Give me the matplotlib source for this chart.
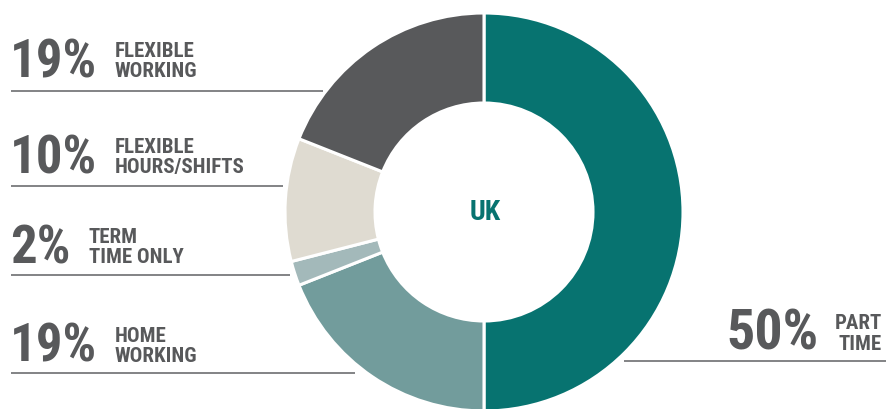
import matplotlib
matplotlib.use("Agg")
import matplotlib.pyplot as plt
from matplotlib import font_manager

# data
categories = ["PART TIME", "HOME WORKING", "TERM TIME ONLY", "FLEXIBLE HOURS/SHIFTS", "FLEXIBLE WORKING"]
shares = [50, 19, 2, 10, 19]
colors = ["#077370", "#729c9c", "#a3b9ba", "#dfdbd1", "#58595b"]
label_lines = [["PART", "TIME"], ["HOME", "WORKING"], ["TERM", "TIME ONLY"],
               ["FLEXIBLE", "HOURS/SHIFTS"], ["FLEXIBLE", "WORKING"]]
center_label = "UK"

# layout in pixels (from top-left)
W, H = 886, 409
cx, cy, r_out, r_in = 484, 212, 199, 109
text_bottom = [350, 362, 263, 173, 77]   # baseline of big number / second line
rule_y = [361, 373, 275, 186, 91]
rule_x = [(624, 886), (11, 355), (11, 290), (11, 283), (11, 323)]


# look for a narrow bold face, heaviest first
def find_narrow():
    best = None
    for f in font_manager.fontManager.ttflist:
        n = f.name.lower()
        fn = f.fname.lower()
        narrow = ("narrow" in n or "condensed" in n or "condensed" in fn or "narrow" in fn or
                  f.stretch in ("condensed", "semi-condensed"))
        if not narrow:
            continue
        if "extra" in fn or "semi" in fn or "italic" in fn or "oblique" in fn:
            continue
        w = f.weight if isinstance(f.weight, int) else 700
        if w < 600 or w > 850:
            continue
        score = w / 1000.0
        if "liberation" in n:
            score += 3
        elif "roboto" in n:
            score += 2
        elif "noto" in n or "open" in n:
            score += 1
        if best is None or score > best[0]:
            best = (score, f.fname)
    return best[1] if best else None


fpath = find_narrow()
if fpath:
    def fp(size):
        return font_manager.FontProperties(fname=fpath, size=size)
    scale = 1.0
else:
    def fp(size):
        return font_manager.FontProperties(family="DejaVu Sans", weight="bold", size=size)
    scale = 0.8

grey = "#58595b"
line_col = "#6d6e71"

fig = plt.figure(figsize=(W / 100, H / 100), dpi=100)
ax = fig.add_axes([0, 0, 1, 1])


def fy(y):
    return H - y


# lines under labels (behind donut)
for (x0, x1), y in zip(rule_x, rule_y):
    ax.plot([x0, x1], [fy(y), fy(y)], color=line_col, lw=1.2, zorder=1, solid_capstyle="butt")

ax.pie(shares, colors=colors, startangle=90, counterclock=False,
       center=(cx, fy(cy)), radius=r_out, frame=True,
       wedgeprops=dict(width=r_out - r_in, edgecolor="white", linewidth=2.2))
ax.set_xlim(0, W)
ax.set_ylim(0, H)
ax.set_aspect("equal")
ax.axis("off")

ax.text(cx + 1, fy(cy), center_label, ha="center", va="center", color="#077370",
        fontproperties=fp(20))

big_size = 38 * scale
small_size = 15 * scale
for i, (share, lines) in enumerate(zip(shares, label_lines)):
    yb = fy(text_bottom[i])
    pct = f"{share}%"
    if i == 0:
        ax.text(882, yb, lines[1], ha="right", va="baseline", color=grey, fontproperties=fp(small_size))
        ax.text(882, yb + 21, lines[0], ha="right", va="baseline", color=grey, fontproperties=fp(small_size))
        ax.text(819, yb, pct, ha="right", va="baseline", color=grey, fontproperties=fp(big_size * 1.06))
    else:
        ax.text(10, yb, pct, ha="left", va="baseline", color=grey, fontproperties=fp(big_size))
        lx = 89 if share < 10 else 115
        ax.text(lx, yb, lines[1], ha="left", va="baseline", color=grey, fontproperties=fp(small_size))
        ax.text(lx, yb + 20, lines[0], ha="left", va="baseline", color=grey, fontproperties=fp(small_size))

fig.savefig("out.png", dpi=100)
